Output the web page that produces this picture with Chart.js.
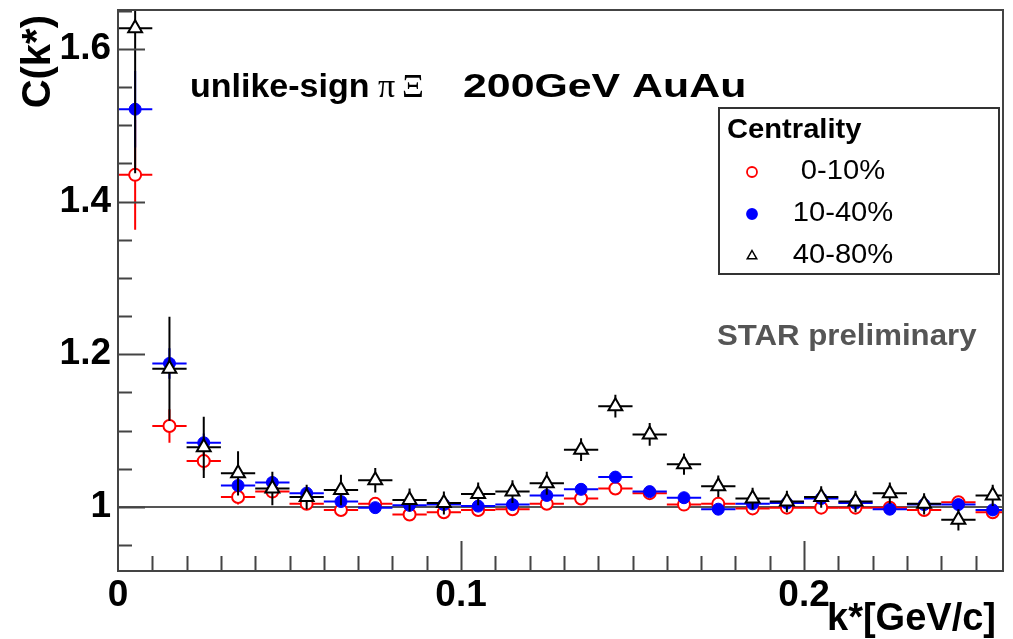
<!DOCTYPE html>
<html>
<head>
<meta charset="utf-8">
<script src="https://cdn.jsdelivr.net/npm/chart.js"></script>
<style>
  html, body { margin: 0; padding: 0; background: #fff; }
</style>
</head>
<body>
<canvas id="myChart" width="1013" height="639"></canvas>
<script>
// bin centres of k* [GeV/c], bin width 0.01
const kStar = [0.005, 0.015, 0.025, 0.035, 0.045, 0.055, 0.065, 0.075, 0.085, 0.095,
               0.105, 0.115, 0.125, 0.135, 0.145, 0.155, 0.165, 0.175, 0.185, 0.195,
               0.205, 0.215, 0.225, 0.235, 0.245, 0.255];
const binHalf = 0.005;

// 0-10%
const c0to10 = [1.435, 1.106, 1.060, 1.013, 1.020, 1.004, 0.996, 1.004, 0.990, 0.993,
                0.996, 0.997, 1.004, 1.011, 1.024, 1.018, 1.003, 1.004, 0.998, 0.999,
                0.999, 0.999, 0.999, 0.996, 1.006, 0.993];
const e0to10 = [0.072, 0.022, 0.012, 0.010, 0.008, 0.007, 0.006, 0.006, 0.006, 0.006,
                0.006, 0.006, 0.006, 0.006, 0.006, 0.006, 0.006, 0.006, 0.006, 0.006,
                0.006, 0.006, 0.006, 0.006, 0.006, 0.006];
// 10-40%
const c10to40 = [1.521, 1.188, 1.084, 1.028, 1.032, 1.018, 1.007, 0.999, 1.002, 1.003,
                 1.001, 1.003, 1.015, 1.023, 1.039, 1.020, 1.012, 0.997, 1.004, 1.005,
                 1.011, 1.005, 0.997, 1.003, 1.003, 0.996];
const e10to40 = [0.050, 0.020, 0.012, 0.009, 0.008, 0.007, 0.006, 0.006, 0.006, 0.006,
                 0.006, 0.006, 0.006, 0.006, 0.006, 0.006, 0.006, 0.006, 0.006, 0.006,
                 0.006, 0.006, 0.006, 0.006, 0.006, 0.006];
// 40-80%
const c40to80 = [1.627, 1.181, 1.078, 1.044, 1.024, 1.013, 1.022, 1.035, 1.009, 1.005,
                 1.017, 1.020, 1.031, 1.075, 1.132, 1.095, 1.056, 1.027, 1.011, 1.007,
                 1.013, 1.007, 1.018, 1.004, 0.983, 1.015];
const e40to80 = [0.190, 0.068, 0.040, 0.029, 0.022, 0.016, 0.020, 0.016, 0.015, 0.015,
                 0.015, 0.015, 0.015, 0.015, 0.015, 0.015, 0.014, 0.014, 0.014, 0.014,
                 0.014, 0.014, 0.014, 0.014, 0.014, 0.014];

const xTicks = [0, 0.1, 0.2];
const yTicks = [1.0, 1.2, 1.4, 1.6];

const tickFont = { family: "'Liberation Sans', Arial, sans-serif", size: 37, weight: 'bold' };

function pts(vals) {
  return kStar.map((x, i) => ({ x: x, y: vals[i] }));
}

function noPadding(s) {
  s.paddingTop = 0;
  s.paddingBottom = 0;
  s.paddingLeft = 0;
  s.paddingRight = 0;
}

// error bars, drawn right before each dataset's markers
const errorBars = {
  id: 'errorBars',
  beforeDatasetDraw(chart, args) {
    const ds = chart.data.datasets[args.index];
    const xs = chart.scales.x, ys = chart.scales.y, a = chart.chartArea;
    const ctx = chart.ctx;
    ctx.save();
    ctx.beginPath();
    ctx.rect(a.left, a.top, a.right - a.left, a.bottom - a.top);
    ctx.clip();
    ctx.strokeStyle = ds.borderColor;
    ctx.lineWidth = 2;
    ds.data.forEach((p, i) => {
      const px = xs.getPixelForValue(p.x);
      const py = ys.getPixelForValue(p.y);
      ctx.beginPath();
      ctx.moveTo(xs.getPixelForValue(p.x - binHalf), py);
      ctx.lineTo(xs.getPixelForValue(p.x + binHalf), py);
      ctx.moveTo(px, ys.getPixelForValue(p.y - ds.yErr[i]));
      ctx.lineTo(px, ys.getPixelForValue(p.y + ds.yErr[i]));
      ctx.stroke();
    });
    ctx.restore();
  }
};

// unity line under the data
const unityLine = {
  id: 'unityLine',
  beforeDatasetsDraw(chart) {
    const a = chart.chartArea, ys = chart.scales.y, ctx = chart.ctx;
    const y = ys.getPixelForValue(1);
    ctx.save();
    ctx.strokeStyle = '#555';
    ctx.lineWidth = 2;
    ctx.beginPath();
    ctx.moveTo(a.left, y);
    ctx.lineTo(a.right, y);
    ctx.stroke();
    ctx.restore();
  }
};

function marker(ctx, style, x, y, r, fill, stroke) {
  ctx.beginPath();
  if (style === 'triangle') {
    ctx.moveTo(x, y - r);
    ctx.lineTo(x + r * 0.866, y + r * 0.5);
    ctx.lineTo(x - r * 0.866, y + r * 0.5);
    ctx.closePath();
  } else {
    ctx.arc(x, y, r, 0, Math.PI * 2);
  }
  ctx.fillStyle = fill;
  ctx.fill();
  ctx.strokeStyle = stroke;
  ctx.stroke();
}

// text drawn a bit wider than the font, like the original
function wideText(ctx, txt, x, y, sx) {
  ctx.save();
  ctx.translate(x, y);
  ctx.scale(sx, 1);
  ctx.fillText(txt, 0, 0);
  ctx.restore();
}

// frame, inner ticks, texts and legend box
const decorations = {
  id: 'decorations',
  afterDraw(chart) {
    const a = chart.chartArea, xs = chart.scales.x, ys = chart.scales.y, ctx = chart.ctx;
    ctx.save();
    ctx.strokeStyle = '#444';
    ctx.lineWidth = 2;
    ctx.strokeRect(a.left, a.top, a.right - a.left, a.bottom - a.top);

    ctx.beginPath();
    for (let v = 0.95; v < ys.max; v += 0.05) {
      const y = Math.round(ys.getPixelForValue(v)) + 0.5;
      const major = Math.abs(v * 5 - Math.round(v * 5)) < 1e-6;
      ctx.moveTo(a.left, y);
      ctx.lineTo(a.left + (major ? 27 : 14), y);
    }
    for (let v = 0.01; v < xs.max; v += 0.01) {
      const x = Math.round(xs.getPixelForValue(v)) + 0.5;
      const major = Math.abs(v * 10 - Math.round(v * 10)) < 1e-6;
      ctx.moveTo(x, a.bottom);
      ctx.lineTo(x, a.bottom - (major ? 30 : 15));
    }
    ctx.stroke();

    ctx.fillStyle = '#000';
    ctx.textBaseline = 'middle';
    ctx.textAlign = 'left';
    // main title
    ctx.font = "bold 34px 'Liberation Sans', Arial, sans-serif";
    ctx.fillText('unlike-sign', 190, 88);
    ctx.font = "34px 'Liberation Serif', 'DejaVu Serif', serif";
    ctx.fillText('\u03C0\u2009\u039E', 378, 88);
    ctx.font = "bold 34px 'Liberation Sans', Arial, sans-serif";
    wideText(ctx, '200GeV AuAu', 463, 88, 1.26);

    // axis titles
    ctx.font = "bold 38px 'Liberation Sans', Arial, sans-serif";
    ctx.textAlign = 'right';
    ctx.textBaseline = 'alphabetic';
    ctx.fillText('k*[GeV/c]', 996, 630);
    ctx.save();
    ctx.font = "bold 40px 'Liberation Sans', Arial, sans-serif";
    ctx.translate(50, 15);
    ctx.rotate(-Math.PI / 2);
    ctx.fillText('C(k*)', 0, 0);
    ctx.restore();

    // STAR preliminary
    ctx.fillStyle = '#555';
    ctx.font = "bold 30px 'Liberation Sans', Arial, sans-serif";
    ctx.textAlign = 'left';
    ctx.textBaseline = 'middle';
    wideText(ctx, 'STAR preliminary', 717, 337, 1.04);

    // legend
    ctx.fillStyle = '#fff';
    ctx.fillRect(719, 108, 280, 166);
    ctx.strokeStyle = '#333';
    ctx.lineWidth = 2;
    ctx.strokeRect(719, 108, 280, 166);
    ctx.fillStyle = '#000';
    ctx.font = "bold 27px 'Liberation Sans', Arial, sans-serif";
    wideText(ctx, 'Centrality', 727, 131, 1.08);
    ctx.font = "27px 'Liberation Sans', Arial, sans-serif";
    ctx.textAlign = 'center';
    const rows = [172, 214, 256];
    chart.data.datasets.slice().reverse().forEach((ds, i) => {
      ctx.lineWidth = ds.pointStyle === 'triangle' ? 1.5 : 1.8;
      marker(ctx, ds.pointStyle, 752, rows[i], ds.pointStyle === 'triangle' ? 5.5 : 5,
             ds.pointBackgroundColor, ds.borderColor);
      ctx.fillStyle = '#000';
      wideText(ctx, ds.label, 843, rows[i], 1.08);
    });
    ctx.restore();
  }
};

const ctx1 = document.getElementById('myChart');

new Chart(ctx1, {
  type: 'scatter',
  data: {
    datasets: [{
      label: '40-80%',
      data: pts(c40to80),
      yErr: e40to80,
      pointStyle: 'triangle',
      pointRadius: 8,
      pointBackgroundColor: '#fff',
      borderColor: '#000',
      pointBorderWidth: 2
    },
    {
      label: '10-40%',
      data: pts(c10to40),
      yErr: e10to40,
      pointStyle: 'circle',
      pointRadius: 6,
      pointBackgroundColor: '#0000ff',
      borderColor: '#0000ff',
      pointBorderWidth: 1
    },
    {
      label: '0-10%',
      data: pts(c0to10),
      yErr: e0to10,
      pointStyle: 'circle',
      pointRadius: 6,
      pointBackgroundColor: '#fff',
      borderColor: '#ff0000',
      pointBorderWidth: 2
    }]
  },
  options: {
    responsive: false,
    animation: false,
    devicePixelRatio: 1,
    layout: { padding: { left: 0, right: 5, top: 10, bottom: 0 } },
    plugins: {
      legend: { display: false },
      tooltip: { enabled: false }
    },
    scales: {
      x: {
        type: 'linear',
        min: 0,
        max: 0.258,
        afterBuildTicks: s => { s.ticks = xTicks.map(v => ({ value: v })); },
        afterFit: s => { s.height = 68; noPadding(s); },
        ticks: {
          callback: v => (v === 0 ? '0' : v.toFixed(1)),
          font: tickFont,
          color: '#000',
          padding: 3,
          maxRotation: 0,
          autoSkip: false
        },
        grid: { display: false, drawTicks: false },
        border: { display: false }
      },
      y: {
        type: 'linear',
        min: 0.916,
        max: 1.651,
        afterBuildTicks: s => { s.ticks = yTicks.map(v => ({ value: v })); },
        afterFit: s => { s.width = 118; noPadding(s); },
        ticks: {
          callback: v => (v === 1 ? '1' : v.toFixed(1)),
          font: tickFont,
          color: '#000',
          padding: 7,
          autoSkip: false
        },
        grid: { display: false, drawTicks: false },
        border: { display: false }
      }
    }
  },
  plugins: [unityLine, errorBars, decorations]
});
</script>
</body>
</html>
